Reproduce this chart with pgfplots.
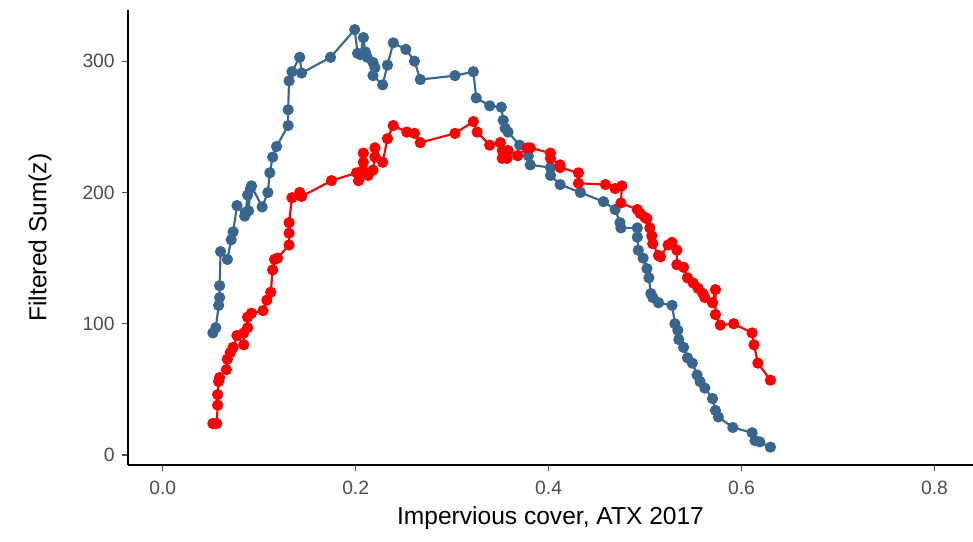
\documentclass[border=0pt]{standalone}
\usepackage{fontspec}
\setmainfont{Liberation Sans}
\usepackage{pgfplots}
\pgfplotsset{compat=1.18}
\definecolor{bluec}{RGB}{56,102,142}
\definecolor{tickgray}{RGB}{77,77,77}

\begin{document}
\begin{tikzpicture}
\begin{axis}[
    scale only axis,
    width=633.75bp, height=341.25bp,
    xmin=-0.036, xmax=0.84,
    ymin=-7.6, ymax=339,
    axis lines=left,
    axis line style={-, black, line width=1.2bp},
    xtick={0,0.2,0.4,0.6,0.8},
    ytick={0,100,200,300},
    ticklabel style={font=\fontsize{14.5}{16}\selectfont, text=tickgray},
    x tick label style={/pgf/number format/fixed, /pgf/number format/fixed zerofill, /pgf/number format/precision=1, yshift=-4bp},
    y tick label style={xshift=-2bp},
    /pgf/number format/assume math mode=true,
    tick style={tickgray, line width=0.9bp},
    tick align=outside,
    major tick length=4.5bp,
    xlabel={Impervious cover, ATX 2017},
    ylabel={Filtered Sum(z)},
    label style={font=\fontsize{18.5}{20}\selectfont},
    x label style={at={(axis description cs:0.5,-0.117)}, anchor=center},
    y label style={at={(axis description cs:-0.104,0.5)}, anchor=center},
    clip=false,
]
\addplot[color=bluec, line width=1.6bp, line join=round, mark=*, mark size=3.4bp, mark options={fill=bluec, draw=bluec}] coordinates {
(0.052,93) (0.055,97) (0.058,114) (0.059,120) (0.059,129) (0.060,155)
(0.067,149) (0.071,164) (0.073,170) (0.077,190) (0.085,182) (0.086,185)
(0.088,198) (0.089,186) (0.091,203) (0.092,205) (0.103,189) (0.109,200)
(0.111,215) (0.114,227) (0.118,235) (0.130,251) (0.130,263) (0.131,285)
(0.134,292) (0.142,303) (0.144,291) (0.174,303) (0.199,324) (0.202,306)
(0.205,305) (0.208,318) (0.210,307) (0.212,303) (0.218,299) (0.220,295)
(0.218,289) (0.228,282) (0.233,297) (0.239,314) (0.252,309) (0.261,300)
(0.267,286) (0.303,289) (0.322,292) (0.325,272) (0.339,266) (0.351,265)
(0.353,255) (0.355,249) (0.358,246) (0.370,236) (0.379,228) (0.381,221)
(0.402,219) (0.402,213) (0.412,206) (0.433,200) (0.457,193) (0.469,187)
(0.474,177) (0.475,173) (0.492,173) (0.492,166) (0.493,156) (0.498,150)
(0.502,142) (0.504,135) (0.506,123) (0.508,120) (0.514,116) (0.528,114)
(0.531,100) (0.534,95) (0.535,88) (0.540,82) (0.544,74) (0.549,70)
(0.554,61) (0.557,56) (0.562,51) (0.570,43) (0.573,34) (0.576,29)
(0.591,21) (0.611,17) (0.614,11) (0.619,10) (0.630,6)
};
\addplot[color=red, line width=1.6bp, line join=round, mark=*, mark size=3.4bp, mark options={fill=red, draw=red}] coordinates {
(0.052,24) (0.056,24) (0.057,38) (0.057,46) (0.058,56) (0.059,59)
(0.066,65) (0.067,73) (0.070,78) (0.073,82) (0.077,91) (0.084,84)
(0.084,93) (0.088,97) (0.088,105) (0.092,108) (0.104,110) (0.108,118)
(0.112,124) (0.114,141) (0.116,149) (0.119,150) (0.131,160) (0.131,169)
(0.131,177) (0.134,196) (0.142,200) (0.144,197) (0.175,209) (0.201,215)
(0.203,209) (0.206,216) (0.208,223) (0.208,230) (0.213,213) (0.218,217)
(0.220,227) (0.220,234) (0.228,223) (0.233,241) (0.239,251) (0.253,246)
(0.261,245) (0.267,238) (0.303,245) (0.322,254) (0.326,246) (0.339,236)
(0.350,238) (0.352,232) (0.352,226) (0.357,226) (0.358,232) (0.368,228)
(0.378,234) (0.381,234) (0.402,230) (0.402,226) (0.412,221) (0.412,219)
(0.431,215) (0.431,207) (0.459,206) (0.469,203) (0.476,205) (0.475,192)
(0.492,187) (0.495,184) (0.500,181) (0.502,180) (0.505,173) (0.507,167)
(0.508,161) (0.514,152) (0.516,151) (0.524,160) (0.528,162) (0.533,156)
(0.533,145) (0.540,143) (0.544,135) (0.550,131) (0.555,127) (0.560,123)
(0.562,120) (0.570,116) (0.573,126) (0.573,107) (0.578,99) (0.592,100)
(0.611,93) (0.613,84) (0.617,70) (0.630,57)
};
\end{axis}
\pgfresetboundingbox
\path[use as bounding box] ([shift={(-96bp,-57bp)}]current axis.south west) rectangle ([shift={(0bp,7.5bp)}]current axis.north east);
\end{tikzpicture}
\end{document}
